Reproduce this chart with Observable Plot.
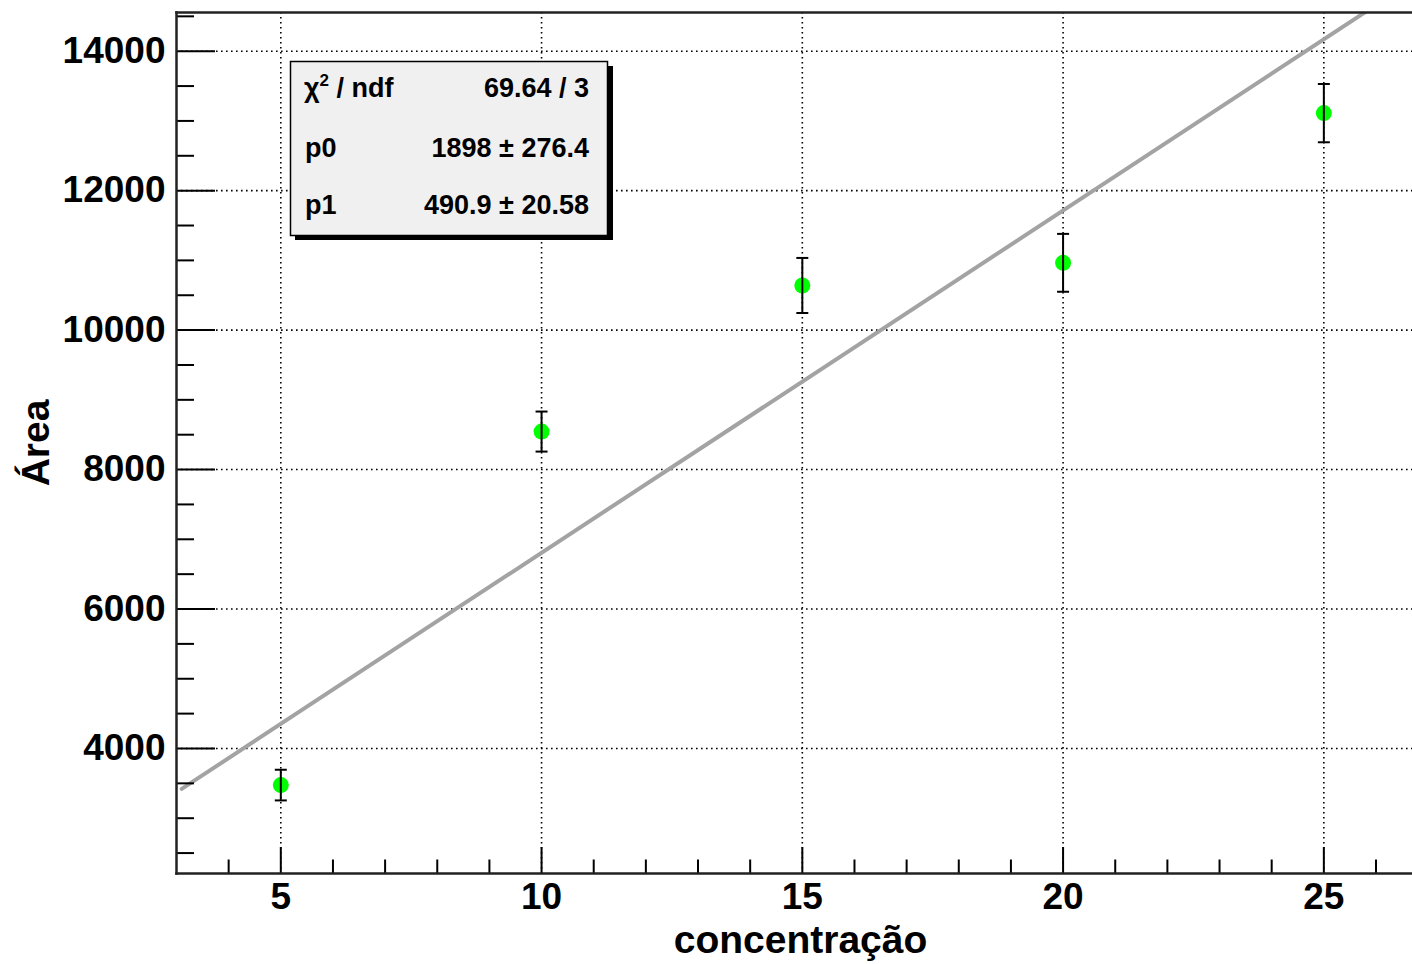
<!DOCTYPE html>
<html>
<head>
<meta charset="utf-8">
<script src="https://cdn.jsdelivr.net/npm/d3@7"></script>
<script src="https://cdn.jsdelivr.net/npm/@observablehq/plot@0.6"></script>
<style>
  html, body { margin: 0; padding: 0; background: #fff; overflow: hidden; }
  #chart { position: relative; width: 1412px; height: 964px; }
</style>
</head>
<body>
<div id="chart"></div>
<script>
// Data
const xVals = [5, 10, 15, 20, 25];
const yVals = [3475, 8545, 10640, 10965, 13112];
const yErr  = [220, 287, 395, 415, 418];

// Fit line endpoints (p0 = 1898, p1 = 490.9)
const fitX = [3.1, 26.7];
const fitY = [3420, 15005];

// Tick values
const xMajor = [5, 10, 15, 20, 25];
const xMinor = [4, 6, 7, 8, 9, 11, 12, 13, 14, 16, 17, 18, 19, 21, 22, 23, 24, 26];
const yMajor = [4000, 6000, 8000, 10000, 12000, 14000];
const yMinor = [2500, 3000, 3500, 4500, 5000, 5500, 6500, 7000, 7500, 8500, 9000, 9500, 10500, 11000, 11500, 12500, 13000, 13500, 14500];

// Stats box rows
const statNames  = ["p0", "p1"];
const statValues = ["1898 \u00b1 276.4", "490.9 \u00b1 20.58"];
const chiValue = "69.64 / 3";

const points = xVals.map((x, i) => ({x, y: yVals[i], e: yErr[i]}));
const fit = fitX.map((x, i) => ({x, y: fitY[i]}));

const capSymbol = {
  draw(ctx, size) {
    const w = Math.sqrt(size / Math.PI);
    ctx.moveTo(-w, 0);
    ctx.lineTo(w, 0);
  }
};

const font = "'Liberation Sans', Arial, Helvetica, sans-serif";

const chart = Plot.plot({
  width: 1412,
  height: 964,
  marginLeft: 176,
  marginRight: 0,
  marginTop: 12,
  marginBottom: 91,
  x: {domain: [3.0, 26.7]},
  y: {domain: [2207, 14555]},
  style: {fontFamily: font, fontWeight: "bold", fontSize: "37px", background: "white", color: "black", overflow: "hidden"},
  marks: [
    Plot.gridX(xMajor, {stroke: "black", strokeOpacity: 1, strokeWidth: 1.6, strokeDasharray: "1.6,3.4"}),
    Plot.gridY(yMajor, {stroke: "black", strokeOpacity: 1, strokeWidth: 1.6, strokeDasharray: "1.6,3.4"}),
    Plot.line(fit, {x: "x", y: "y", stroke: "#a3a3a3", strokeWidth: 4, clip: true}),
    Plot.dot(points, {x: "x", y: "y", r: 8, fill: "#00ff00", stroke: "none"}),
    Plot.ruleX(points, {x: "x", y1: d => d.y - d.e, y2: d => d.y + d.e, stroke: "black", strokeWidth: 2}),
    Plot.dot(points, {x: "x", y: d => d.y + d.e, symbol: capSymbol, r: 6, stroke: "black", strokeWidth: 2, fill: "none"}),
    Plot.dot(points, {x: "x", y: d => d.y - d.e, symbol: capSymbol, r: 6, stroke: "black", strokeWidth: 2, fill: "none"}),
    Plot.axisX(xMajor, {tickSize: 26, dy: -26, fill: "none", label: null, strokeWidth: 2}),
    Plot.axisX(xMinor, {tickSize: 13.5, dy: -13.5, fill: "none", label: null, strokeWidth: 2}),
    Plot.axisX(xMajor, {tickSize: 0, tickPadding: 9, label: null, fontSize: 37, tickFormat: d => String(d)}),
    Plot.axisY(yMajor, {tickSize: 39, dx: 39, fill: "none", label: null, strokeWidth: 2}),
    Plot.axisY(yMinor, {tickSize: 18, dx: 18, fill: "none", label: null, strokeWidth: 2}),
    Plot.axisY(yMajor, {tickSize: 0, tickPadding: 11, label: null, fontSize: 37, tickFormat: d => String(d)}),
    Plot.frame({anchor: "top", stroke: "#222", strokeWidth: 2.5}),
    Plot.frame({anchor: "bottom", stroke: "#222", strokeWidth: 2.5}),
    Plot.frame({anchor: "left", stroke: "#222", strokeWidth: 2.5}),
    Plot.text(["concentra\u00e7\u00e3o"], {text: d => d, frameAnchor: "bottom", textAnchor: "middle", dx: 6, dy: 67, fontSize: 39, lineAnchor: "middle"}),
    Plot.text(["\u00c1rea"], {text: d => d, frameAnchor: "left", textAnchor: "middle", dx: -140, rotate: -90, fontSize: 39, lineAnchor: "middle"})
  ]
});

document.getElementById("chart").appendChild(chart);

// Stats box (legend-like overlay)
const svg = d3.select(chart);
const g = svg.append("g").attr("font-family", font).attr("font-weight", "bold").attr("font-size", 27).attr("text-anchor", "start");
g.append("rect").attr("x", 295).attr("y", 66).attr("width", 318).attr("height", 174).attr("fill", "black");
g.append("rect").attr("x", 290.5).attr("y", 61.5).attr("width", 317).attr("height", 174)
  .attr("fill", "#f0f0f0").attr("stroke", "black").attr("stroke-width", 1.5);

const t0 = g.append("text").attr("x", 304).attr("y", 97).attr("text-anchor", "start");
t0.append("tspan").text("\u03c7");
t0.append("tspan").attr("font-size", 17).attr("dy", -11).text("2");
t0.append("tspan").attr("dy", 11).text(" / ndf");
g.append("text").attr("x", 589).attr("y", 97).attr("text-anchor", "end").text(chiValue);

const rowY = [157, 214];
statNames.forEach((n, i) => {
  g.append("text").attr("x", 305).attr("y", rowY[i]).attr("text-anchor", "start").text(n);
  g.append("text").attr("x", 589).attr("y", rowY[i]).attr("text-anchor", "end").text(statValues[i]);
});
</script>
</body>
</html>
